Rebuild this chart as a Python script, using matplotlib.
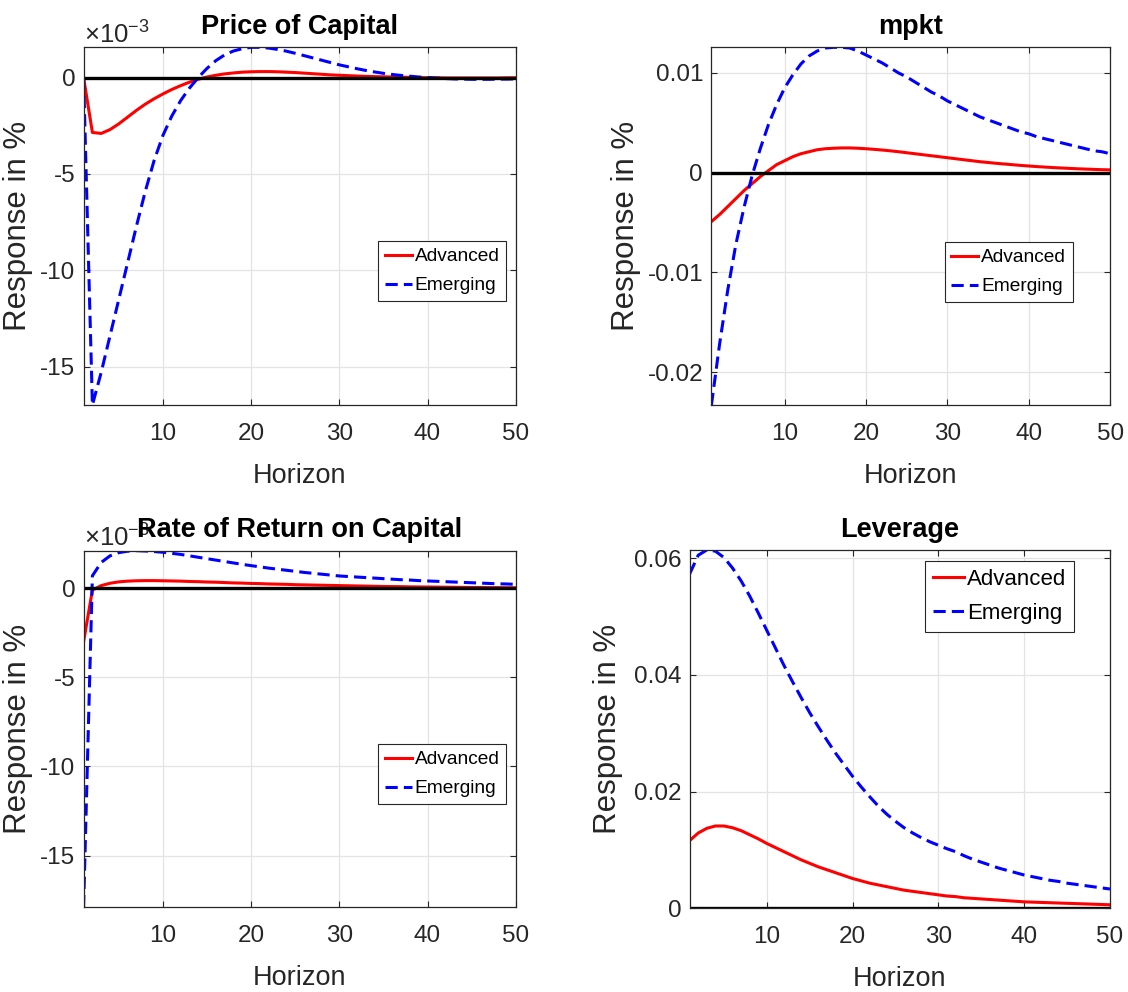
import matplotlib
matplotlib.use("Agg")
import matplotlib.pyplot as plt
from matplotlib.ticker import MultipleLocator, FuncFormatter, ScalarFormatter
import numpy as np

# impulse responses, horizon 1..50
horizon = np.arange(1, 51)

# price of capital (x 1e-3)
price_adv = [0, -2.85, -2.9, -2.7, -2.4, -2.05, -1.7, -1.38, -1.1, -0.85,
             -0.62, -0.42, -0.24, -0.09, 0.03, 0.12, 0.19, 0.24, 0.28, 0.3,
             0.31, 0.31, 0.3, 0.28, 0.26, 0.23, 0.2, 0.17, 0.14, 0.12,
             0.1, 0.08, 0.06, 0.05, 0.04, 0.03, 0.02, 0.01, 0.0, -0.01,
             -0.01, -0.02, -0.02, -0.02, -0.02, -0.02, -0.02, -0.02, -0.01, -0.01]
price_emg = [0, -17.0, -15.3, -13.4, -11.5, -9.6, -7.7, -5.9, -4.3, -3.0,
             -2.0, -1.2, -0.55, 0.0, 0.48, 0.88, 1.18, 1.38, 1.5, 1.57,
             1.57, 1.53, 1.46, 1.37, 1.26, 1.14, 1.02, 0.9, 0.78, 0.66,
             0.56, 0.46, 0.37, 0.29, 0.22, 0.16, 0.11, 0.07, 0.03, 0.0,
             -0.03, -0.05, -0.07, -0.08, -0.09, -0.09, -0.09, -0.08, -0.08, -0.07]

# marginal product of capital
mpkt_adv = [-0.0049, -0.0042, -0.0034, -0.0026, -0.0018, -0.0011, -0.0004, 0.0002, 0.0008, 0.0012,
            0.0016, 0.0019, 0.0021, 0.0023, 0.0024, 0.00245, 0.00248, 0.00248, 0.00245, 0.0024,
            0.00234, 0.00227, 0.00219, 0.0021, 0.002, 0.0019, 0.0018, 0.0017, 0.0016, 0.0015,
            0.0014, 0.0013, 0.0012, 0.0011, 0.00102, 0.00094, 0.00087, 0.0008, 0.00073, 0.00067,
            0.00061, 0.00056, 0.00051, 0.00047, 0.00043, 0.00039, 0.00036, 0.00033, 0.0003, 0.00028]
mpkt_emg = [-0.0233, -0.0172, -0.0118, -0.0072, -0.0035, -0.0003, 0.0024, 0.0048, 0.0068, 0.0085,
            0.0098, 0.0109, 0.0117, 0.0122, 0.0125, 0.01257, 0.01257, 0.0125, 0.0122, 0.0118,
            0.0114, 0.0110, 0.0105, 0.0100, 0.0096, 0.0091, 0.0086, 0.0081, 0.0077, 0.0072,
            0.0068, 0.0064, 0.0060, 0.0056, 0.0053, 0.0050, 0.0047, 0.0044, 0.0041, 0.0039,
            0.0036, 0.0034, 0.0032, 0.0030, 0.0028, 0.0026, 0.0024, 0.0022, 0.0021, 0.0019]

# rate of return on capital (x 1e-3)
ror_adv = [-3.0, -0.1, 0.15, 0.28, 0.36, 0.4, 0.42, 0.43, 0.43, 0.42,
           0.41, 0.4, 0.38, 0.37, 0.35, 0.34, 0.32, 0.3, 0.29, 0.27,
           0.26, 0.24, 0.23, 0.22, 0.2, 0.19, 0.18, 0.17, 0.16, 0.15,
           0.14, 0.13, 0.12, 0.11, 0.1, 0.095, 0.09, 0.08, 0.075, 0.07,
           0.065, 0.06, 0.055, 0.05, 0.045, 0.04, 0.037, 0.034, 0.03, 0.028]
ror_emg = [-17.9, 0.7, 1.45, 1.82, 2.0, 2.08, 2.11, 2.09, 2.06, 2.02,
           1.96, 1.9, 1.82, 1.74, 1.66, 1.58, 1.5, 1.42, 1.34, 1.27,
           1.2, 1.13, 1.07, 1.01, 0.95, 0.89, 0.84, 0.79, 0.74, 0.69,
           0.66, 0.63, 0.6, 0.57, 0.54, 0.51, 0.48, 0.46, 0.43, 0.41,
           0.39, 0.37, 0.35, 0.33, 0.31, 0.29, 0.27, 0.25, 0.24, 0.22]

# leverage
lev_adv = [0.0116, 0.0129, 0.0137, 0.0141, 0.0141, 0.0138, 0.0133, 0.0126, 0.0119, 0.0111,
           0.0104, 0.0097, 0.0090, 0.0083, 0.0077, 0.0071, 0.0066, 0.0061, 0.0056, 0.0051,
           0.0047, 0.0043, 0.0040, 0.0037, 0.0034, 0.0031, 0.0029, 0.0027, 0.0025, 0.0023,
           0.0021, 0.0020, 0.0018, 0.0017, 0.0016, 0.0015, 0.0014, 0.0013, 0.0012, 0.0011,
           0.00105, 0.001, 0.00095, 0.0009, 0.00085, 0.0008, 0.00075, 0.0007, 0.00065, 0.0006]
lev_emg = [0.0573, 0.0605, 0.0614, 0.0612, 0.0601, 0.0583, 0.0561, 0.0535, 0.0506, 0.0476,
           0.0446, 0.0416, 0.0388, 0.0361, 0.0335, 0.0311, 0.0288, 0.0266, 0.0246, 0.0226,
           0.0208, 0.0191, 0.0175, 0.0161, 0.0149, 0.0138, 0.0129, 0.0121, 0.0114, 0.0108,
           0.0102, 0.0097, 0.0090, 0.0084, 0.0079, 0.0074, 0.0069, 0.0065, 0.0061, 0.0057,
           0.0054, 0.0051, 0.0048, 0.0046, 0.0043, 0.0041, 0.0039, 0.0037, 0.0035, 0.0033]

series_names = ['Advanced', 'Emerging']

plt.rcParams['font.family'] = ['Liberation Sans', 'DejaVu Sans']
plt.rcParams['axes.unicode_minus'] = False
plt.rcParams['mathtext.default'] = 'regular'

AXC = '#262626'


class PowerFormatter(ScalarFormatter):
    """Fixed x10^n offset, plain hyphen labels like '-15'."""
    def __call__(self, x, pos=None):
        return '{:g}'.format(round(x / 10 ** self.orderOfMagnitude, 6))


def plain(v, pos):
    return '{:g}'.format(round(v, 6))


fig = plt.figure(figsize=(11.28, 9.92), dpi=100)

panels = [
    # title, adv, emg, scale, axes rect, ytick step, ylabel x, legend (loc, anchor, fontsize)
    ('Price of Capital', price_adv, price_emg, 1e-3, [0.0741, 0.5917, 0.3831, 0.3606], 5e-3, -0.117,
     ('lower right', (0.9785, 0.2907), 13.8)),
    ('mpkt', mpkt_adv, mpkt_emg, 1.0, [0.6307, 0.5917, 0.3534, 0.3606], 0.01, -0.177,
     ('lower right', (0.9064, 0.288), 13.8)),
    ('Rate of Return on Capital', ror_adv, ror_emg, 1e-3, [0.0741, 0.0854, 0.3831, 0.3595], 5e-3, -0.117,
     ('lower right', (0.9785, 0.2897), 13.8)),
    ('Leverage', lev_adv, lev_emg, 1.0, [0.6114, 0.0844, 0.3726, 0.3612], 0.02, -0.159,
     ('upper right', (0.9155, 0.969), 16)),
]

for title, adv, emg, scale, rect, step, ylx, (lloc, lanchor, lfs) in panels:
    ax = fig.add_axes(rect)
    adv = np.array(adv) * scale
    emg = np.array(emg) * scale
    zero = np.zeros_like(horizon, dtype=float)

    ax.plot(horizon, adv, color='red', lw=2.2, label=series_names[0])
    ax.plot(horizon, emg, color='blue', lw=2.2, linestyle=(0, (4, 2)), label=series_names[1])
    ax.plot(horizon, zero, color='black', lw=2.4)

    # tight limits around the data
    ax.set_xlim(horizon[0], horizon[-1])
    ymin = min(adv.min(), emg.min(), 0)
    ymax = max(adv.max(), emg.max(), 0)
    ax.set_ylim(ymin, ymax)

    ax.xaxis.set_major_locator(MultipleLocator(10))
    ax.yaxis.set_major_locator(MultipleLocator(step))
    if scale != 1.0:
        fmt = PowerFormatter(useMathText=True)
        fmt.set_powerlimits((-3, -3))
        ax.yaxis.set_major_formatter(fmt)
        ax.yaxis.get_offset_text().set_fontsize(18.5)
        ax.yaxis.get_offset_text().set_color(AXC)
    else:
        ax.yaxis.set_major_formatter(FuncFormatter(plain))

    ax.grid(True, color='#e3e3e3', lw=0.9)
    ax.set_axisbelow(True)
    for s in ax.spines.values():
        s.set_color(AXC)
        s.set_linewidth(0.9)
    ax.tick_params(axis='both', direction='in', length=4, width=0.8, colors=AXC,
                   labelsize=17.5, top=True, right=True)
    ax.tick_params(axis='x', pad=13)
    ax.tick_params(axis='y', pad=6)

    ax.set_title(title, fontsize=19.5, fontweight='bold', y=1.0, pad=9.5)
    ax.set_xlabel('Horizon', fontsize=19.5, color=AXC, labelpad=13)
    ax.set_ylabel('Response in %', fontsize=22.5, color=AXC)
    ax.yaxis.set_label_coords(ylx, 0.5)

    leg = ax.legend(loc=lloc, bbox_to_anchor=lanchor, fontsize=lfs, frameon=True,
                    fancybox=False, framealpha=1, edgecolor=AXC, borderpad=0.35,
                    labelspacing=0.6, handlelength=1.4, handletextpad=0.15,
                    borderaxespad=0)
    leg.get_frame().set_linewidth(0.8)

fig.savefig('out.png', dpi=100)
